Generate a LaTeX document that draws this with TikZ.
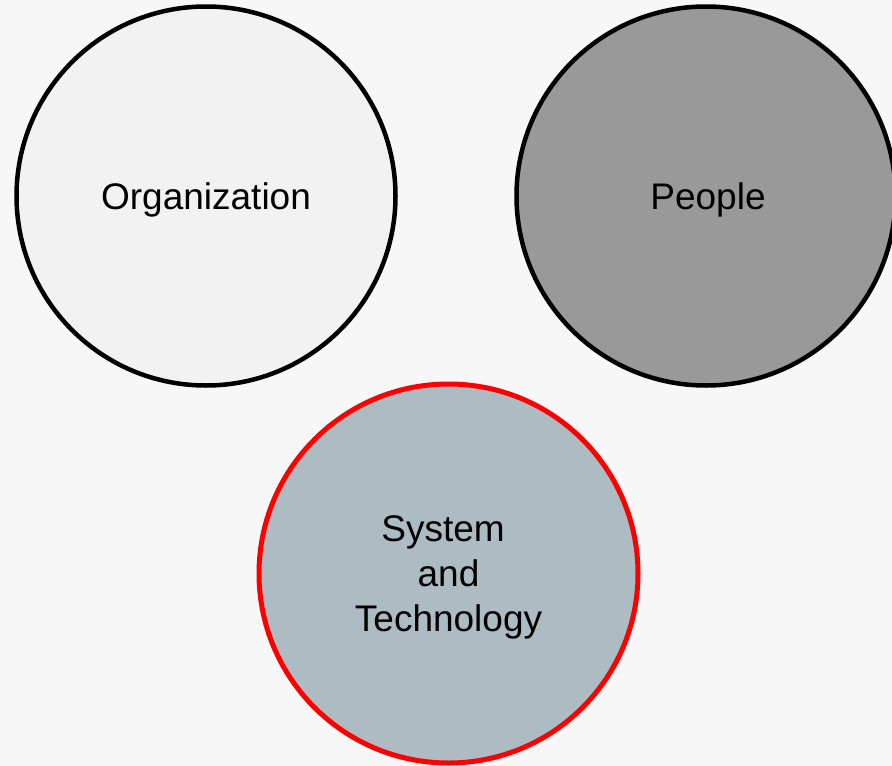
\documentclass[tikz,border=0pt]{standalone}
\usepackage{fontspec}
\setmainfont{Liberation Sans}
\definecolor{bg}{HTML}{F7F7F7}
\definecolor{orgfill}{HTML}{F2F2F2}
\definecolor{peoplefill}{HTML}{999999}
\definecolor{sysfill}{HTML}{ADBBC3}
\definecolor{sysred}{HTML}{FF0000}
\begin{document}
\begin{tikzpicture}[x=1pt,y=-1pt,
  bubble/.style={circle,minimum size=379pt,inner sep=0pt,line width=4.5pt,draw=black},
  bubbletext/.style={font=\fontsize{37}{45}\selectfont,align=center,text=black,inner sep=0pt}]
\fill[bg] (0,0) rectangle (892,766);
\useasboundingbox (0,0) rectangle (892,766);
\node[bubble,fill=orgfill] (org) at (206,196) {};
\node[bubble,fill=peoplefill] (people) at (706,196) {};
\node[bubble,fill=sysfill,draw=sysred,line width=5pt] (sys) at (448.5,573.5) {};
\node[bubbletext] (orgt) at ([yshift=-4pt]org.center) {Organization};
\node[bubbletext] (peoplet) at ([xshift=2pt,yshift=-4pt]people.center) {People};
\node[bubbletext] (syst) at ([yshift=-4pt]sys.center) {\hspace*{-11pt}System\\and\\Technology};
\end{tikzpicture}
\end{document}
